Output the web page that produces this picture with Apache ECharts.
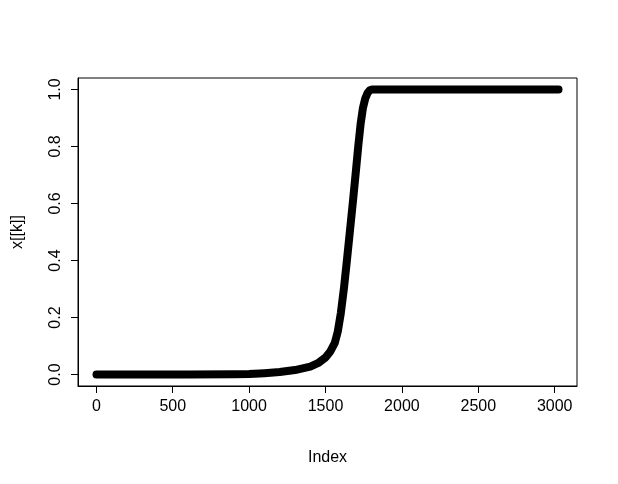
<!DOCTYPE html>
<html>
<head>
<meta charset="utf-8">
<script src="https://cdn.jsdelivr.net/npm/echarts@6/dist/echarts.min.js"></script>
<style>
  html, body { margin: 0; padding: 0; background: #fff; }
  #main { width: 618px; height: 484px; }
</style>
</head>
<body>
<div id="main"></div>
<script>
// values (index, x[[k]])
var idx  = [1, 600, 900, 1000, 1100, 1200, 1300, 1400, 1450, 1500, 1530, 1560, 1580, 1600, 1620,
            1640, 1660, 1680, 1700, 1715, 1730, 1745, 1760, 1775, 1790, 1805, 3025];
var vals = [0, 0, 0.001, 0.002, 0.005, 0.009, 0.016, 0.028, 0.040, 0.060, 0.080, 0.110, 0.150, 0.215, 0.300,
            0.400, 0.505, 0.610, 0.720, 0.805, 0.880, 0.935, 0.968, 0.987, 0.997, 1.0, 1.0];
var xTicks = [0, 500, 1000, 1500, 2000, 2500, 3000];
var yTicks = [0, 0.2, 0.4, 0.6, 0.8, 1.0];

var pts = [];
for (var i = 0; i < idx.length; i++) {
    pts.push([idx[i], vals[i]]);
}

var font = 'Liberation Sans, Arial, sans-serif';
var chart = echarts.init(document.getElementById('main'));
var option = {
    backgroundColor: '#fff',
    animation: false,
    grid: {
        left: 78, top: 78, right: 41, bottom: 98,
        show: true, borderColor: '#000', borderWidth: 1
    },
    xAxis: {
        type: 'value',
        min: -120, max: 3146,
        name: 'Index',
        nameLocation: 'middle',
        nameGap: 64,
        nameTextStyle: { color: '#000', fontSize: 16, fontFamily: font },
        axisLine: { show: true, onZero: false, lineStyle: { color: '#000', width: 1 } },
        axisTick: { show: true, length: 7, customValues: xTicks, lineStyle: { color: '#000' } },
        axisLabel: {
            customValues: xTicks, margin: 13, color: '#000', fontSize: 16, fontFamily: font,
            formatter: function (v) { return String(v); }
        },
        splitLine: { show: false }
    },
    yAxis: {
        type: 'value',
        min: -0.04, max: 1.04,
        name: 'x[[k]]',
        nameLocation: 'middle',
        nameRotate: 90,
        nameGap: 52,
        nameTextStyle: { color: '#000', fontSize: 16, fontFamily: font },
        axisLine: { show: true, onZero: false, lineStyle: { color: '#000', width: 1 } },
        axisTick: { show: true, length: 7, customValues: yTicks, lineStyle: { color: '#000' } },
        axisLabel: {
            customValues: yTicks, rotate: 90, margin: 14,
            color: '#000', fontSize: 16, fontFamily: font,
            formatter: function (v) { return v.toFixed(1); }
        },
        splitLine: { show: false }
    },
    series: [{
        type: 'line',
        data: pts,
        showSymbol: false,
        lineStyle: { color: '#000', width: 8, cap: 'round', join: 'round' }
    }]
};
chart.setOption(option);
</script>
</body>
</html>
